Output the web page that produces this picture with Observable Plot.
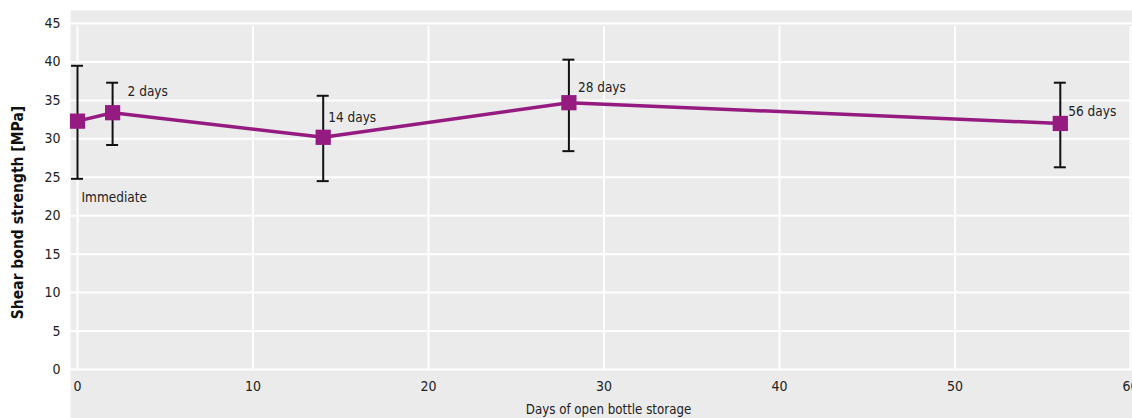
<!DOCTYPE html>
<html>
<head>
<meta charset="utf-8">
<script src="https://cdn.jsdelivr.net/npm/d3@7"></script>
<script src="https://cdn.jsdelivr.net/npm/@observablehq/plot@0.6"></script>
<style>
  html, body { margin: 0; padding: 0; background: #ffffff; }
  #chart svg { display: block; }
</style>
</head>
<body>
<div id="chart"></div>
<script>
// ---- Data ----
const days = [0, 2, 14, 28, 56];
const meanStrength = [32.3, 33.4, 30.2, 34.7, 32.0];
const lowStrength = [24.8, 29.2, 24.5, 28.4, 26.3];
const highStrength = [39.5, 37.3, 35.6, 40.3, 37.3];
const pointLabels = ["Immediate", "2 days", "14 days", "28 days", "56 days"];
const xTicks = [0, 10, 20, 30, 40, 50, 60];
const yTicks = [0, 5, 10, 15, 20, 25, 30, 35, 40, 45];
const xTitle = "Days of open bottle storage";
const yTitle = "Shear bond strength [MPa]";

const rows = days.map((d, i) => ({
  x: d, y: meanStrength[i], lo: lowStrength[i], hi: highStrength[i], label: pointLabels[i]
}));

const purple = "#951b81";
const font = "'DejaVu Sans Condensed', 'DejaVu Sans', sans-serif";

// label offsets (layout only)
const labelOffsets = [
  {ref: "lo", dx: 4, dy: 19},
  {ref: "y", dx: 15, dy: -21},
  {ref: "y", dx: 5, dy: -20},
  {ref: "y", dx: 9, dy: -15},
  {ref: "y", dx: 8, dy: -12}
];

const labelMarks = rows.map((r, i) => Plot.text([r], {
  x: "x", y: labelOffsets[i].ref, text: "label",
  dx: labelOffsets[i].dx, dy: labelOffsets[i].dy,
  textAnchor: "start", fontSize: 13.5, fill: "#222"
}));

const chart = Plot.plot({
  width: 1132,
  height: 418,
  marginLeft: 70,
  marginTop: 10,
  marginRight: 0,
  marginBottom: 0,
  insetLeft: 7,
  insetTop: 13,
  insetBottom: 49,
  insetRight: 2,
  style: {fontFamily: font, fontSize: "13.5px", color: "#222", background: "#fff"},
  x: {domain: [0, 60], axis: null},
  y: {domain: [0, 45], axis: null},
  marks: [
    Plot.frame({fill: "#ebebeb", stroke: null}),
    Plot.gridY(yTicks, {stroke: "#fff", strokeOpacity: 1, strokeWidth: 2}),
    Plot.ruleX(xTicks, {y1: 0, y2: 45, stroke: "#fff", strokeWidth: 2, insetBottom: -3}),
    Plot.axisY(yTicks, {tickSize: 0, tickPadding: 10, fontSize: 14, label: null, fill: "#222"}),
    Plot.text(xTicks, {x: d => d, y: 0, text: d => String(d), dy: 17, fontSize: 14, fill: "#222"}),
    Plot.text([xTitle], {frameAnchor: "bottom", text: d => d, lineAnchor: "top", dy: -14, dx: 7, fontSize: 13.2, fill: "#222"}),
    Plot.text([yTitle], {frameAnchor: "left", textAnchor: "middle", text: d => d, rotate: -90, dx: -52, dy: -2, fontSize: 15.5, fontWeight: "bold", fill: "#111"}),
    Plot.ruleX(rows, {x: "x", y1: "lo", y2: "hi", stroke: "#111", strokeWidth: 2}),
    Plot.ruleY(rows, {y: "lo", x1: "x", x2: "x", insetLeft: -6, insetRight: -6, stroke: "#111", strokeWidth: 2}),
    Plot.ruleY(rows, {y: "hi", x1: "x", x2: "x", insetLeft: -6, insetRight: -6, stroke: "#111", strokeWidth: 2}),
    Plot.line(rows, {x: "x", y: "y", stroke: purple, strokeWidth: 3.5}),
    Plot.dot(rows, {x: "x", y: "y", symbol: "square", r: 8.6, fill: purple, stroke: null}),
    ...labelMarks
  ]
});
document.getElementById("chart").appendChild(chart);
</script>
</body>
</html>
